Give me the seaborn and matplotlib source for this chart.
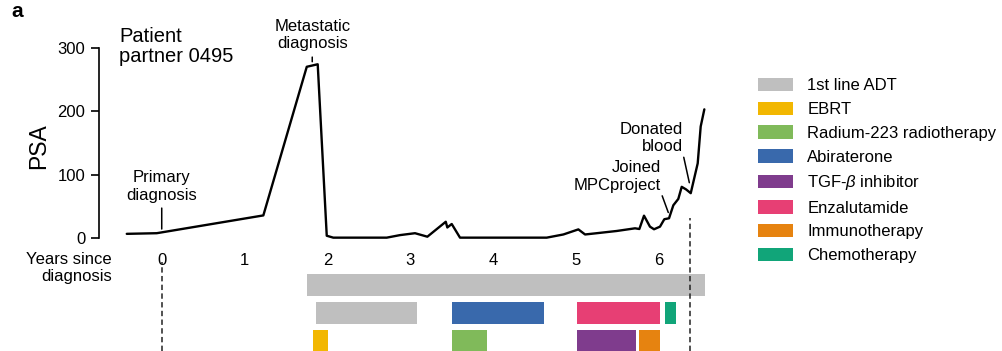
import matplotlib
matplotlib.use("Agg")
import matplotlib.pyplot as plt
from matplotlib.patches import Patch
import pandas as pd
import seaborn as sns

# PSA measurements (years since primary diagnosis)
years = [-0.422, -0.060, 1.226, 1.750, 1.882, 1.991, 2.070, 2.715, 2.875, 3.056,
         3.205, 3.427, 3.446, 3.499, 3.599, 4.645, 4.846, 5.027, 5.108, 5.249,
         5.490, 5.711, 5.763, 5.819, 5.891, 5.940, 6.012, 6.064, 6.121, 6.173,
         6.233, 6.274, 6.326, 6.383, 6.467, 6.503, 6.547]
psa = [7, 8, 36, 270, 274, 4, 1, 1, 5, 8,
       2.5, 26, 17, 22.5, 1, 1, 6, 14, 6, 8,
       11.5, 15.7, 14.6, 35.6, 18.3, 14.2, 18.3, 30, 31.5, 52,
       62, 81, 77, 71, 118, 176, 203]

# Treatments and their colours
treatments = ["1st line ADT", "EBRT", "Radium-223 radiotherapy", "Abiraterone",
              r"TGF-$\beta$ inhibitor", "Enzalutamide", "Immunotherapy", "Chemotherapy"]
treatment_colors = ["#BFBFBF", "#F2B701", "#80BA5A", "#3969AC",
                    "#7F3C8D", "#E73F74", "#E68310", "#11A579"]

# Treatment periods (row, start, end in years)
bar_treatment = ["1st line ADT", "1st line ADT", "Abiraterone", "Enzalutamide",
                 "Chemotherapy", "EBRT", "Radium-223 radiotherapy",
                 r"TGF-$\beta$ inhibitor", "Immunotherapy"]
bar_row = [0, 1, 1, 1, 1, 2, 2, 2, 2]
bar_start = [1.757, 1.862, 3.502, 5.014, 6.069, 1.829, 3.502, 5.014, 5.763]
bar_end = [6.555, 3.077, 4.617, 6.013, 6.205, 2.006, 3.929, 5.719, 6.013]

# Clinical events
event_labels = ["Primary\ndiagnosis", "Metastatic\ndiagnosis", "Joined\nMPCproject", "Donated\nblood"]
event_years = [0.0, 1.816, 6.112, 6.366]
blood_draw_year = 6.374

x_ticks = [0, 1, 2, 3, 4, 5, 6]
y_ticks = [0, 100, 200, 300]

sns.set_style("ticks")
plt.rcParams["font.family"] = ["Liberation Sans", "DejaVu Sans"]
plt.rcParams["mathtext.fontset"] = "custom"
plt.rcParams["mathtext.it"] = "Liberation Sans:italic"
plt.rcParams["mathtext.rm"] = "Liberation Sans"
for key in ["text.color", "axes.labelcolor", "xtick.color", "ytick.color", "axes.edgecolor"]:
    plt.rcParams[key] = "black"

FS = 12
W, H = 1003, 351
fig = plt.figure(figsize=(W / 100, H / 100), dpi=100)
ax = fig.add_axes([113 / W, 1 - 240 / H, (720 - 113) / W, 230 / H])
ax2 = fig.add_axes([113 / W, 0, (720 - 113) / W, 111 / H], sharex=ax)
ax2.patch.set_alpha(0)

df = pd.DataFrame({"year": years, "psa": psa})
sns.lineplot(data=df, x="year", y="psa", ax=ax, color="black", lw=1.7, sort=False)

ax.set_xlim(-0.588, 6.736)
ax.set_ylim(-2.7, 359.4)
ax.set_xticks(x_ticks)
ax.set_yticks(y_ticks)
ax.set_xlabel("")
ax.set_ylabel("PSA", fontsize=16.5)
ax.yaxis.set_label_coords(-0.104, 0.406)
sns.despine(ax=ax, bottom=True, offset=10)
ax.spines["left"].set_bounds(0, 300)
ax.spines["left"].set_linewidth(1.2)
ax.tick_params(axis="x", length=0, pad=9.5, labelsize=FS)
ax.tick_params(axis="y", length=6, width=1.2, pad=4, labelsize=FS)

# event annotations
line_kw = dict(arrowstyle="-", lw=1.1, color="black", shrinkB=0)
ax.annotate(event_labels[0], xy=(event_years[0], 14.6), xytext=(event_years[0], 56),
            ha="center", va="bottom", fontsize=FS,
            arrowprops=dict(relpos=(0.5, 0), shrinkA=1.5, **line_kw))
ax.annotate(event_labels[1], xy=(event_years[1], 278), xytext=(event_years[1], 294.8),
            ha="center", va="bottom", fontsize=FS,
            arrowprops=dict(relpos=(0.5, 0), shrinkA=2, **line_kw))
ax.annotate(event_labels[2], xy=(event_years[2], 40.6), xytext=(event_years[2] - 0.088, 72),
            ha="right", va="bottom", fontsize=FS,
            arrowprops=dict(relpos=(1, 0), shrinkA=0, **line_kw))
ax.annotate(event_labels[3], xy=(event_years[3], 87.5), xytext=(event_years[3] - 0.076, 132.7),
            ha="right", va="bottom", fontsize=FS,
            arrowprops=dict(relpos=(1, 0), shrinkA=0, **line_kw))

# treatment timeline
color_of = dict(zip(treatments, treatment_colors))
for r, s, e, t in zip(bar_row, bar_start, bar_end, bar_treatment):
    ax2.barh(r, e - s, left=s, height=0.78, color=color_of[t], linewidth=0)
ax2.set_ylim(2.369, -1.609)
ax2.axis("off")

dash_kw = dict(color="#222222", lw=1.1, linestyle=(0, (3.5, 2.2)), clip_on=False)
ax2.axvline(event_years[0], ymin=0, ymax=0.80, **dash_kw)
ax2.axvline(blood_draw_year, ymin=0, ymax=1.195, **dash_kw)

fig.text(112 / W, 1 - 252 / H, "Years since\ndiagnosis", ha="right", va="top",
         fontsize=FS, linespacing=1.15)
fig.text(119 / W, 1 - 27 / H, "Patient\npartner 0495", ha="left", va="top",
         fontsize=14.5, linespacing=1.05)
fig.text(11 / W, 1 - 17 / H, "a", ha="left", va="baseline", fontsize=15, fontweight="bold")

handles = [Patch(facecolor=c, edgecolor="none", label=t)
           for t, c in zip(treatments, treatment_colors)]
fig.legend(handles=handles, loc="upper left", bbox_to_anchor=(758 / W, 1 - 78 / H),
           frameon=False, fontsize=FS, borderpad=0, borderaxespad=0,
           handlelength=2.1, handleheight=0.85, handletextpad=0.85, labelspacing=0.5)

fig.savefig("out.png", dpi=100)
